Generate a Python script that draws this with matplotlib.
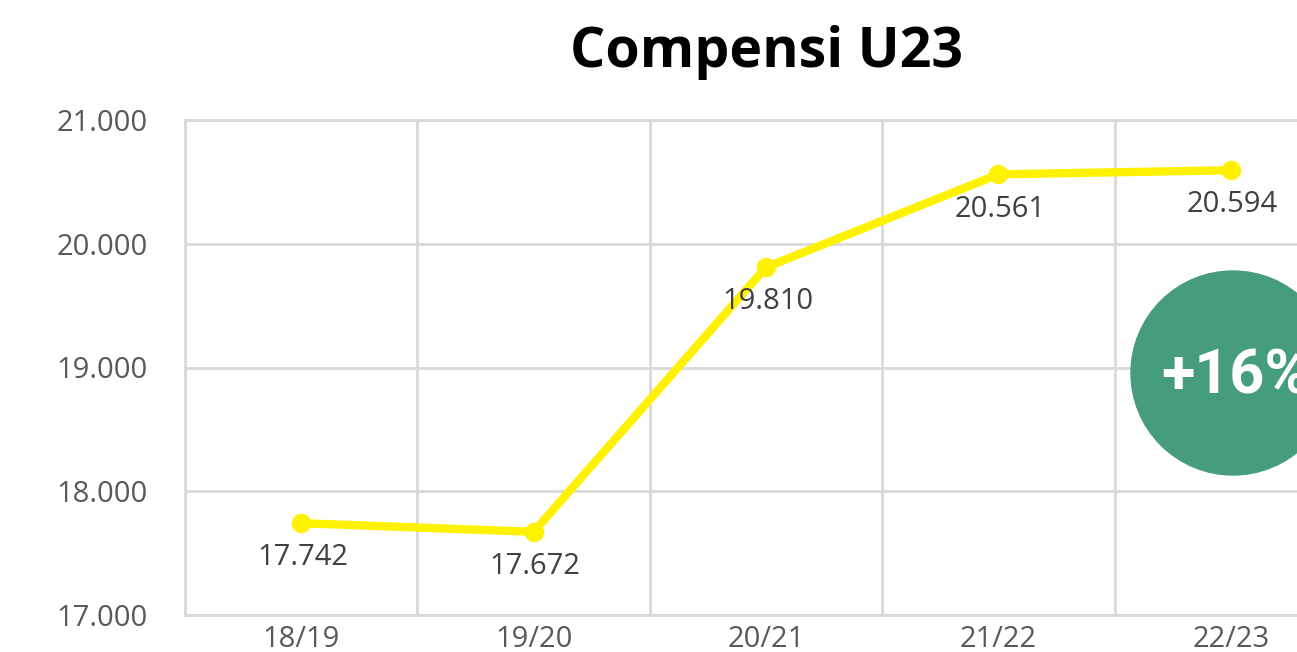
import matplotlib.pyplot as plt
from matplotlib.patches import Circle
from matplotlib.ticker import FuncFormatter, MultipleLocator

seasons = ["18/19", "19/20", "20/21", "21/22", "22/23"]
compensi = [17742, 17672, 19810, 20561, 20594]
badge = "+16%"

def dotted(v):
    return f"{int(round(v)):,}".replace(",", ".")

plt.rcParams['font.family'] = ['Open Sans', 'DejaVu Sans']

fig = plt.figure(figsize=(12.97, 6.52), dpi=100)
# axes runs past the right edge, like the cropped original
ax = fig.add_axes([185/1297, 1 - 615/652, 1162/1297, 495/652])

x = range(len(seasons))
ax.plot(x, compensi, color="#FFF200", lw=6, marker="o", ms=13, zorder=3,
        solid_capstyle="round")
for i, v in zip(x, compensi):
    ax.annotate(dotted(v), (i, v), xytext=(1, -25), textcoords="offset points",
                ha="center", va="center", fontsize=21, color="#404040")

ax.set_xlim(-0.5, len(seasons) - 0.5)
ax.set_ylim(17000, 21000)
ax.yaxis.set_major_locator(MultipleLocator(1000))
ax.yaxis.set_major_formatter(FuncFormatter(lambda v, p: dotted(v)))
ax.set_xticks(list(x))
ax.set_xticklabels(seasons)
ax.set_xticks([i - 0.5 for i in range(len(seasons) + 1)], minor=True)

ax.grid(axis="y", which="major", color="#D9D9D9", lw=2)
ax.grid(axis="x", which="minor", color="#D9D9D9", lw=2)
ax.tick_params(which="both", length=0)
ax.tick_params(axis="y", labelsize=21, labelcolor="#595959", pad=27)
ax.tick_params(axis="x", labelsize=21, labelcolor="#595959", pad=7)
for s in ax.spines.values():
    s.set_color("#D9D9D9")
    s.set_linewidth(2)

fig.text(767/1297, 1 - 52/652, "Compensi U23", ha="center", va="center",
         fontsize=40, fontweight="bold", color="black")

fig.add_artist(Circle((12.33, (652 - 373) / 100), 1.02, color="#469D7B",
                      transform=fig.dpi_scale_trans, zorder=5))
fig.text(1161/1297, 1 - 376/652, badge, ha="left", va="center", fontsize=44,
         fontweight="bold", color="white", family=["Roboto", "DejaVu Sans"],
         zorder=6)

fig.savefig("out.png", dpi=100)
